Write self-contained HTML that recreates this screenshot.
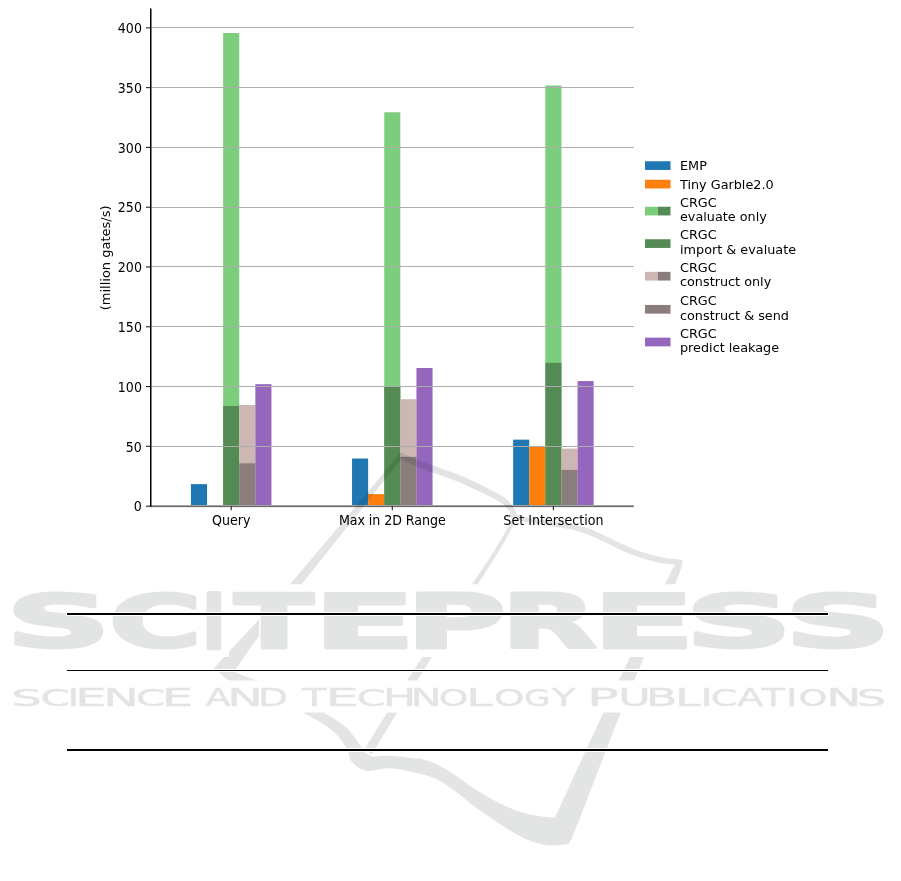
<!DOCTYPE html>
<html><head><meta charset="utf-8"><title>Chart</title>
<style>
html,body{margin:0;padding:0;background:#fff;}
body{width:901px;height:881px;overflow:hidden;}
svg{display:block;will-change:transform;}
.t{font-family:"DejaVu Sans","Liberation Sans",sans-serif;font-size:13px;fill:#000;}
.lg{font-family:"DejaVu Sans","Liberation Sans",sans-serif;font-size:12.8px;fill:#000;}
</style></head>
<body>
<svg width="901" height="881" viewBox="0 0 901 881">
<rect x="0" y="0" width="901" height="881" fill="#fff"/>
<g id="bars">
<rect x="190.95" y="484.12" width="16.10" height="21.88" fill="#1f77b4"/>
<rect x="223.15" y="33.01" width="16.10" height="472.99" fill="#7ccd7c"/>
<rect x="223.15" y="406.05" width="16.10" height="99.95" fill="#548b54"/>
<rect x="239.25" y="404.97" width="16.10" height="101.03" fill="#cdb7b5"/>
<rect x="239.25" y="463.32" width="16.10" height="42.68" fill="#8b7d7b"/>
<rect x="255.35" y="384.17" width="16.10" height="121.83" fill="#9467bd"/>
<rect x="352.05" y="458.53" width="16.10" height="47.47" fill="#1f77b4"/>
<rect x="368.15" y="494.10" width="16.10" height="11.90" fill="#ff7f0e"/>
<rect x="384.25" y="112.28" width="16.10" height="393.72" fill="#7ccd7c"/>
<rect x="384.25" y="386.68" width="16.10" height="119.32" fill="#548b54"/>
<rect x="400.35" y="399.23" width="16.10" height="106.77" fill="#cdb7b5"/>
<rect x="400.35" y="456.86" width="16.10" height="49.14" fill="#8b7d7b"/>
<rect x="416.45" y="368.02" width="16.10" height="137.98" fill="#9467bd"/>
<rect x="513.15" y="439.64" width="16.10" height="66.36" fill="#1f77b4"/>
<rect x="529.25" y="446.94" width="16.10" height="59.06" fill="#ff7f0e"/>
<rect x="545.35" y="85.50" width="16.10" height="420.50" fill="#7ccd7c"/>
<rect x="545.35" y="362.88" width="16.10" height="143.12" fill="#548b54"/>
<rect x="561.45" y="448.61" width="16.10" height="57.39" fill="#cdb7b5"/>
<rect x="561.45" y="469.89" width="16.10" height="36.11" fill="#8b7d7b"/>
<rect x="577.55" y="381.06" width="16.10" height="124.94" fill="#9467bd"/>
</g>
<g id="grid">
<line x1="150.7" x2="633.8" y1="446.50" y2="446.50" stroke="#adadad" stroke-width="1.15"/>
<line x1="150.7" x2="633.8" y1="386.50" y2="386.50" stroke="#adadad" stroke-width="1.15"/>
<line x1="150.7" x2="633.8" y1="326.50" y2="326.50" stroke="#adadad" stroke-width="1.15"/>
<line x1="150.7" x2="633.8" y1="266.50" y2="266.50" stroke="#adadad" stroke-width="1.15"/>
<line x1="150.7" x2="633.8" y1="207.50" y2="207.50" stroke="#adadad" stroke-width="1.15"/>
<line x1="150.7" x2="633.8" y1="147.50" y2="147.50" stroke="#adadad" stroke-width="1.15"/>
<line x1="150.7" x2="633.8" y1="87.50" y2="87.50" stroke="#adadad" stroke-width="1.15"/>
<line x1="150.7" x2="633.8" y1="27.50" y2="27.50" stroke="#adadad" stroke-width="1.15"/>
</g>
<rect x="146" y="505" width="487.8" height="1" fill="#a2a2a2"/>
<rect x="146" y="506" width="487.8" height="1" fill="#6a6a6a"/>
<rect x="146" y="507" width="487.8" height="0.3" fill="#c0c0c0"/>
<line x1="150.75" x2="150.75" y1="8.5" y2="506.8" stroke="#000" stroke-width="1.5"/>
<g id="ticks">
<line x1="146" x2="150.7" y1="446.32" y2="446.32" stroke="#222" stroke-width="1.1"/>
<line x1="146" x2="150.7" y1="386.54" y2="386.54" stroke="#222" stroke-width="1.1"/>
<line x1="146" x2="150.7" y1="326.76" y2="326.76" stroke="#222" stroke-width="1.1"/>
<line x1="146" x2="150.7" y1="266.98" y2="266.98" stroke="#222" stroke-width="1.1"/>
<line x1="146" x2="150.7" y1="207.19" y2="207.19" stroke="#222" stroke-width="1.1"/>
<line x1="146" x2="150.7" y1="147.41" y2="147.41" stroke="#222" stroke-width="1.1"/>
<line x1="146" x2="150.7" y1="87.63" y2="87.63" stroke="#222" stroke-width="1.1"/>
<line x1="146" x2="150.7" y1="27.85" y2="27.85" stroke="#222" stroke-width="1.1"/>
<line x1="231.20" x2="231.20" y1="506" y2="510.2" stroke="#222" stroke-width="1.1"/>
<line x1="392.30" x2="392.30" y1="506" y2="510.2" stroke="#222" stroke-width="1.1"/>
<line x1="553.40" x2="553.40" y1="506" y2="510.2" stroke="#222" stroke-width="1.1"/>
</g>
<g class="t">
<text transform="translate(141.9,511.30) scale(0.97,1.07)" text-anchor="end">0</text>
<text transform="translate(141.9,451.52) scale(0.97,1.07)" text-anchor="end">50</text>
<text transform="translate(141.9,391.74) scale(0.97,1.07)" text-anchor="end">100</text>
<text transform="translate(141.9,331.96) scale(0.97,1.07)" text-anchor="end">150</text>
<text transform="translate(141.9,272.18) scale(0.97,1.07)" text-anchor="end">200</text>
<text transform="translate(141.9,212.39) scale(0.97,1.07)" text-anchor="end">250</text>
<text transform="translate(141.9,152.61) scale(0.97,1.07)" text-anchor="end">300</text>
<text transform="translate(141.9,92.83) scale(0.97,1.07)" text-anchor="end">350</text>
<text transform="translate(141.9,33.05) scale(0.97,1.07)" text-anchor="end">400</text>
<text transform="translate(231.20,525.35) scale(0.975,1.06)" text-anchor="middle">Query</text>
<text transform="translate(392.30,525.35) scale(0.975,1.06)" text-anchor="middle" textLength="109.5" lengthAdjust="spacing">Max in 2D Range</text>
<text transform="translate(553.40,525.35) scale(0.975,1.06)" text-anchor="middle">Set Intersection</text>
<text transform="translate(110.3,257.9) rotate(-90)" text-anchor="middle">(million gates/s)</text>
</g>
<g class="lg">
<rect x="645.00" y="161.25" width="25.50" height="8.70" fill="#1f77b4"/>
<text transform="translate(680,170.10)">EMP</text>
<rect x="645.00" y="179.75" width="25.50" height="8.70" fill="#ff7f0e"/>
<text transform="translate(680,188.60)">Tiny Garble2.0</text>
<rect x="645.00" y="206.75" width="12.75" height="8.70" fill="#7ccd7c"/>
<rect x="657.75" y="206.75" width="12.75" height="8.70" fill="#548b54"/>
<text transform="translate(680,206.90)">CRGC</text>
<text transform="translate(680,221.30)">evaluate only</text>
<rect x="645.00" y="239.25" width="25.50" height="8.70" fill="#548b54"/>
<text transform="translate(680,239.40)">CRGC</text>
<text transform="translate(680,253.80)">import &amp; evaluate</text>
<rect x="645.00" y="271.85" width="12.75" height="8.70" fill="#cdb7b5"/>
<rect x="657.75" y="271.85" width="12.75" height="8.70" fill="#8b7d7b"/>
<text transform="translate(680,272.00)">CRGC</text>
<text transform="translate(680,286.40)">construct only</text>
<rect x="645.00" y="304.95" width="25.50" height="8.70" fill="#8b7d7b"/>
<text transform="translate(680,305.10)">CRGC</text>
<text transform="translate(680,319.50)">construct &amp; send</text>
<rect x="645.00" y="337.65" width="25.50" height="8.70" fill="#9467bd"/>
<text transform="translate(680,337.80)">CRGC</text>
<text transform="translate(680,352.20)">predict leakage</text>
</g>
<defs>
<clipPath id="wmclip">
<rect x="0" y="0" width="901" height="584.2"/>
<rect x="0" y="657" width="901" height="23.5"/>
<rect x="0" y="712.5" width="901" height="170"/>
<rect x="229" y="618.8" width="30" height="38.5"/>
<rect x="437" y="636" width="9" height="10"/>
</clipPath>
</defs>
<g id="wm">
<g opacity="0.11" fill="#001212" clip-path="url(#wmclip)">
<path d="M399.5,453.5 L394.9,459.0 L388.8,466.5 L381.4,475.4 L373.2,485.4 L364.3,496.1 L355.2,507.0 L345.1,519.0 L333.7,532.6 L321.7,546.8 L309.9,560.7 L299.1,573.5 L290.0,584.2 L283.0,592.3 L277.7,598.4 L273.3,603.4 L269.2,608.0 L264.8,612.8 L259.4,618.8 L252.5,626.4 L244.4,635.1 L236.0,644.1 L228.1,652.6 L221.2,660.0 L216.3,665.4 L213.6,668.5 L212.6,669.8 L212.7,669.9 L213.4,669.3 L214.2,668.7 L214.5,668.5 L214.9,668.8 L215.4,669.3 L216.1,669.8 L216.9,670.5 L217.8,671.3 L219.0,672.2 L220.2,673.3 L221.3,674.4 L222.6,675.8 L224.3,677.2 L226.7,678.9 L230.0,680.8 L234.4,683.0 L239.8,685.5 L245.8,688.2 L252.3,691.0 L258.7,693.8 L265.0,696.5 L271.2,699.1 L277.6,701.8 L284.1,704.4 L290.5,707.0 L296.7,709.7 L302.5,712.5 L308.0,715.3 L313.3,718.2 L318.5,721.1 L323.3,724.1 L327.7,727.0 L331.6,730.0 L335.0,733.1 L338.0,736.2 L340.6,739.4 L342.9,742.5 L344.8,745.5 L346.6,748.3 L347.9,750.9 L348.6,753.3 L349.1,755.5 L349.6,757.7 L350.3,759.7 L351.6,761.6 L353.4,763.5 L355.5,765.4 L358.0,767.2 L360.6,768.8 L363.5,770.0 L366.6,770.8 L369.9,771.0 L373.5,770.5 L377.4,769.8 L381.4,769.0 L385.6,768.4 L390.0,768.3 L394.8,768.7 L400.0,769.5 L405.4,770.5 L410.7,771.5 L415.6,772.7 L420.0,773.7 L423.7,774.6 L426.8,775.5 L429.7,776.5 L432.3,777.5 L435.0,778.6 L437.8,780.0 L440.8,781.6 L443.7,783.3 L446.6,785.3 L449.6,787.3 L452.5,789.4 L455.5,791.5 L458.5,793.7 L461.4,796.1 L464.4,798.5 L467.4,801.0 L470.3,803.4 L473.3,805.7 L476.3,807.9 L479.2,810.0 L482.1,812.1 L485.1,814.1 L488.0,816.1 L491.0,818.1 L494.0,820.1 L496.9,822.1 L499.9,824.1 L502.9,826.0 L505.8,827.9 L508.8,829.7 L511.8,831.5 L514.7,833.2 L517.7,834.9 L520.7,836.6 L523.6,838.1 L526.6,839.4 L529.6,840.6 L532.6,841.7 L535.7,842.7 L538.7,843.5 L541.6,844.2 L544.3,844.8 L546.9,845.2 L549.4,845.3 L551.8,845.4 L554.2,845.3 L556.4,845.2 L558.5,845.1 L560.6,845.0 L562.7,844.8 L564.7,844.5 L566.6,844.3 L568.1,844.0 L569.2,843.9 L570.0,842.0 L570.9,840.1 L572.1,837.5 L573.8,833.5 L576.3,827.2 L580.0,818.0 L584.9,805.3 L590.9,789.7 L597.7,771.8 L605.1,752.5 L612.9,732.6 L620.8,712.7 L629.7,691.3 L639.7,667.4 L650.2,642.8 L660.2,619.4 L668.9,599.0 L675.4,583.3 L679.4,573.1 L681.5,567.0 L682.4,563.8 L682.4,562.5 L682.3,561.7 L682.5,560.5 L675.4,564.8 L674.9,565.5 L674.7,565.5 L674.3,566.0 L672.9,568.2 L670.2,573.6 L665.4,583.3 L657.6,599.4 L647.2,621.1 L635.3,646.0 L623.2,671.3 L612.2,694.4 L603.5,712.7 L597.4,725.6 L592.9,735.2 L589.4,742.5 L586.5,748.8 L583.6,755.3 L580.0,763.0 L575.6,772.5 L570.9,782.9 L566.0,793.4 L561.5,803.3 L557.7,811.6 L555.0,817.6 L553.9,817.5 L552.5,817.4 L550.8,817.3 L548.8,817.2 L546.6,817.0 L544.3,816.7 L541.8,816.4 L538.9,816.0 L535.9,815.5 L532.8,815.0 L529.6,814.4 L526.6,813.7 L523.6,812.9 L520.7,812.0 L517.7,811.0 L514.7,809.9 L511.8,808.7 L508.8,807.5 L505.8,806.2 L502.9,804.8 L499.9,803.3 L496.9,801.8 L494.0,800.2 L491.0,798.6 L488.0,797.0 L485.1,795.3 L482.2,793.5 L479.2,791.7 L476.3,789.9 L473.3,788.0 L470.3,786.0 L467.4,783.9 L464.4,781.8 L461.4,779.6 L458.5,777.5 L455.5,775.5 L452.5,773.6 L449.6,771.7 L446.7,769.8 L443.7,768.0 L440.8,766.4 L437.8,764.9 L434.7,763.5 L431.4,762.3 L428.1,761.1 L425.0,760.1 L422.2,759.3 L420.0,758.6 L418.6,758.2 L418.1,758.1 L417.9,758.2 L417.6,758.3 L416.7,758.4 L414.9,758.3 L411.8,758.0 L407.8,757.5 L403.3,757.0 L398.5,756.5 L394.0,756.1 L390.0,755.8 L386.4,755.7 L382.8,755.8 L379.4,756.0 L376.4,756.2 L373.9,756.4 L372.0,756.5 L365.0,753.0 L364.3,751.9 L363.4,750.3 L362.3,748.5 L361.0,746.4 L359.6,744.2 L358.0,742.0 L356.3,739.7 L354.4,737.1 L352.4,734.5 L350.2,731.8 L347.7,729.1 L345.0,726.6 L342.0,724.2 L338.8,721.9 L335.3,719.6 L331.6,717.3 L327.6,714.9 L323.3,712.5 L318.6,709.9 L313.6,707.3 L308.3,704.5 L302.8,701.8 L297.4,699.1 L292.0,696.5 L286.6,693.9 L281.1,691.3 L275.5,688.7 L270.1,686.2 L264.9,683.9 L260.0,681.8 L255.3,679.9 L250.6,678.2 L246.2,676.6 L242.2,675.1 L238.8,673.8 L236.3,672.7 L234.9,671.7 L234.5,670.9 L234.7,670.3 L235.2,669.8 L235.8,669.3 L236.0,669.0 L238.3,665.7 L241.2,661.2 L244.8,655.9 L249.0,649.8 L253.8,643.3 L259.0,636.3 L264.7,629.0 L271.0,621.3 L277.9,613.0 L285.3,604.1 L293.2,594.6 L301.6,584.2 L311.0,572.5 L321.5,559.4 L332.5,545.6 L343.5,531.8 L353.9,518.7 L363.2,507.0 L371.7,496.3 L380.0,485.9 L387.7,476.2 L394.5,467.5 L400.2,460.4 L404.5,455.0 Z"/>
<path d="M512.3,519.1 L511.1,521.3 L509.6,524.1 L507.7,527.5 L505.7,531.3 L503.4,535.3 L501.1,539.5 L498.7,543.6 L496.2,547.6 L493.9,551.3 L491.8,554.7 L489.6,558.1 L487.2,561.7 L484.6,565.5 L481.6,570.0 L478.1,575.2 L473.9,581.3 L468.9,588.7 L463.0,597.3 L456.5,606.7 L449.7,616.7 L442.8,626.8 L436.0,636.7 L429.6,646.2 L423.8,654.8 L418.6,662.8 L413.7,670.5 L408.9,677.8 L404.5,685.0 L400.2,691.8 L396.1,698.4 L392.1,704.7 L388.3,710.7 L384.6,716.7 L381.0,722.6 L377.4,728.3 L374.1,733.7 L371.0,738.7 L368.3,743.1 L366.0,746.8 L364.2,749.7 L371.8,754.3 L373.5,751.4 L375.8,747.7 L378.5,743.3 L381.5,738.3 L384.8,732.9 L388.3,727.1 L392.0,721.2 L395.7,715.3 L399.4,709.2 L403.3,702.9 L407.4,696.3 L411.6,689.5 L416.1,682.3 L420.7,674.9 L425.5,667.2 L430.6,659.2 L436.1,650.4 L442.2,640.8 L448.6,630.6 L455.1,620.3 L461.6,610.1 L467.7,600.4 L473.3,591.6 L478.1,584.1 L482.1,577.8 L485.5,572.5 L488.3,568.0 L490.9,564.0 L493.2,560.5 L495.3,557.0 L497.5,553.5 L499.8,549.8 L502.1,545.7 L504.5,541.5 L506.9,537.2 L509.1,533.2 L511.1,529.3 L513.0,525.9 L514.5,523.1 L515.7,520.9 Z"/>
<path d="M398.3,457.3 L399.5,457.9 L401.2,458.8 L403.2,459.9 L405.4,461.1 L407.8,462.4 L410.2,463.6 L412.5,464.8 L414.7,465.8 L416.7,466.7 L418.7,467.5 L420.6,468.2 L422.5,468.9 L424.4,469.6 L426.5,470.3 L428.7,471.1 L431.1,472.0 L433.7,472.9 L436.6,473.9 L439.6,475.0 L442.8,476.1 L446.0,477.2 L449.1,478.3 L452.3,479.5 L455.3,480.7 L458.4,482.0 L461.5,483.3 L464.5,484.6 L467.6,486.0 L470.7,487.4 L473.7,488.8 L476.7,490.2 L479.6,491.6 L482.4,492.9 L485.3,494.3 L488.2,495.7 L490.9,497.1 L493.6,498.5 L496.1,499.8 L498.3,501.1 L500.2,502.4 L501.9,503.5 L503.3,504.7 L504.6,505.7 L505.7,506.8 L506.6,507.9 L507.5,508.9 L508.4,510.0 L509.2,511.1 L509.9,512.0 L510.4,513.0 L510.9,514.0 L511.3,514.9 L511.7,515.9 L512.0,516.8 L512.2,517.7 L512.5,518.5 L512.6,519.0 L512.7,519.4 L512.7,519.8 L512.7,520.1 L512.6,520.5 L512.6,520.8 L512.5,521.3 L512.4,521.6 L516.6,522.4 L516.6,522.2 L516.7,522.0 L516.9,521.5 L517.0,521.0 L517.2,520.2 L517.3,519.4 L517.3,518.5 L517.1,517.5 L517.0,516.6 L516.8,515.6 L516.5,514.5 L516.2,513.3 L515.8,512.0 L515.3,510.6 L514.6,509.3 L513.8,507.9 L513.0,506.7 L512.1,505.4 L511.1,504.1 L510.0,502.8 L508.8,501.5 L507.3,500.1 L505.6,498.7 L503.8,497.2 L501.6,495.8 L499.2,494.4 L496.6,492.9 L493.9,491.4 L491.1,490.0 L488.2,488.5 L485.3,487.1 L482.4,485.6 L479.5,484.2 L476.6,482.8 L473.5,481.3 L470.4,479.9 L467.3,478.5 L464.1,477.1 L461.0,475.8 L457.9,474.5 L454.7,473.2 L451.5,472.0 L448.2,470.9 L445.0,469.7 L441.8,468.6 L438.8,467.6 L436.0,466.6 L433.3,465.6 L430.9,464.8 L428.7,464.0 L426.6,463.3 L424.7,462.6 L422.9,462.0 L421.1,461.3 L419.2,460.6 L417.3,459.8 L415.2,458.9 L412.9,457.9 L410.5,456.8 L408.1,455.7 L405.8,454.7 L403.8,453.7 L402.0,452.9 L400.7,452.3 Z"/>
<path d="M509.4,517.1 L510.6,517.5 L512.2,518.0 L514.0,518.5 L516.2,519.2 L518.5,519.9 L521.0,520.6 L523.5,521.2 L526.1,521.9 L528.8,522.4 L531.7,522.9 L534.7,523.5 L537.8,524.0 L541.0,524.5 L544.1,525.0 L547.2,525.5 L550.1,526.0 L553.0,526.4 L555.9,526.9 L558.8,527.3 L561.6,527.7 L564.4,528.2 L567.1,528.6 L569.7,529.1 L572.1,529.6 L574.4,530.2 L576.6,530.8 L578.7,531.4 L580.8,532.0 L582.8,532.7 L584.8,533.4 L586.8,534.2 L589.0,535.0 L591.1,535.9 L593.3,536.8 L595.5,537.8 L597.7,538.8 L599.9,539.9 L602.2,541.0 L604.5,542.1 L606.7,543.2 L609.0,544.3 L611.3,545.4 L613.6,546.5 L616.0,547.7 L618.3,548.8 L620.7,549.9 L623.1,551.0 L625.4,552.1 L627.8,553.0 L630.1,554.0 L632.5,554.9 L634.8,555.7 L637.1,556.6 L639.5,557.4 L641.8,558.1 L644.1,558.9 L646.4,559.6 L648.8,560.2 L651.1,560.8 L653.4,561.4 L655.7,562.0 L658.1,562.5 L660.4,563.0 L662.8,563.4 L665.4,563.7 L668.1,564.0 L670.8,564.2 L673.6,564.4 L676.1,564.6 L678.4,564.7 L680.4,564.8 L681.8,564.9 L682.2,559.7 L680.8,559.6 L678.8,559.4 L676.5,559.2 L674.0,558.9 L671.4,558.7 L668.7,558.4 L666.1,558.0 L663.8,557.6 L661.5,557.2 L659.3,556.7 L657.1,556.2 L654.9,555.7 L652.6,555.1 L650.4,554.5 L648.1,553.8 L645.9,553.1 L643.6,552.4 L641.4,551.7 L639.1,550.9 L636.9,550.1 L634.6,549.3 L632.3,548.4 L630.0,547.5 L627.8,546.5 L625.5,545.6 L623.2,544.5 L620.9,543.4 L618.6,542.3 L616.2,541.2 L613.9,540.0 L611.6,538.9 L609.3,537.8 L607.0,536.8 L604.7,535.7 L602.4,534.6 L600.2,533.5 L597.9,532.5 L595.6,531.5 L593.3,530.5 L591.0,529.6 L588.8,528.8 L586.7,528.0 L584.6,527.3 L582.4,526.7 L580.3,526.1 L578.1,525.5 L575.7,524.9 L573.3,524.4 L570.7,523.9 L568.0,523.4 L565.2,523.0 L562.4,522.6 L559.5,522.2 L556.6,521.8 L553.8,521.4 L550.9,521.0 L547.9,520.6 L544.8,520.1 L541.7,519.7 L538.6,519.3 L535.5,518.8 L532.5,518.3 L529.7,517.8 L527.1,517.3 L524.6,516.8 L522.1,516.2 L519.7,515.6 L517.4,514.9 L515.3,514.3 L513.5,513.7 L511.9,513.2 L510.6,512.9 Z"/>
</g>
<g font-family="DejaVu Sans" font-weight="bold" font-size="100" style="font-kerning:none" fill="#e3e5e5" stroke="#e3e5e5" stroke-width="4.0" stroke-linejoin="round">
<text transform="matrix(1.46261,0,0,0.72487,5.869,647.285)" stroke-width="3.885">S</text>
<text transform="matrix(1.26452,0,0,0.72487,108.977,647.285)" stroke-width="4.178">C</text>
<text transform="matrix(0.58511,0,0,0.75171,203.117,648.300)" stroke-width="6.031">I</text>
<text transform="matrix(1.15774,0,0,0.75171,234.621,648.300)" stroke-width="4.288">T</text>
<text transform="matrix(1.49614,0,0,0.75171,313.236,648.300)" stroke-width="3.772">E</text>
<text transform="matrix(1.35667,0,0,0.75171,406.219,648.300)" stroke-width="3.961">P</text>
<text transform="matrix(1.23860,0,0,0.75171,501.605,648.300)" stroke-width="4.145">R</text>
<text transform="matrix(1.50772,0,0,0.75171,592.029,648.300)" stroke-width="3.757">E</text>
<text transform="matrix(1.49391,0,0,0.72487,685.044,647.285)" stroke-width="3.844">S</text>
<text transform="matrix(1.48348,0,0,0.72487,784.619,647.285)" stroke-width="3.857">S</text>
</g>
<g font-family="DejaVu Sans" font-size="100" style="font-kerning:none" fill="#e3e5e5" stroke="#e3e5e5" stroke-width="0.5" stroke-linejoin="round">
<text transform="matrix(0.48343,0,0,0.23545,11.259,705.720)" stroke-width="1.482">S</text>
<text transform="matrix(0.42177,0,0,0.23545,40.588,705.720)" stroke-width="1.587">C</text>
<text transform="matrix(0.41414,0,0,0.24417,67.191,706.050)" stroke-width="1.572">I</text>
<text transform="matrix(0.50638,0,0,0.24417,74.987,706.050)" stroke-width="1.422">E</text>
<text transform="matrix(0.47464,0,0,0.24417,103.199,706.050)" stroke-width="1.469">N</text>
<text transform="matrix(0.42517,0,0,0.23545,135.869,705.720)" stroke-width="1.580">C</text>
<text transform="matrix(0.49787,0,0,0.24417,161.871,706.050)" stroke-width="1.434">E</text>
<text transform="matrix(0.36677,0,0,0.24417,205.457,706.050)" stroke-width="1.671">A</text>
<text transform="matrix(0.47464,0,0,0.24417,227.199,706.050)" stroke-width="1.469">N</text>
<text transform="matrix(0.38989,0,0,0.24417,258.029,706.050)" stroke-width="1.621">D</text>
<text transform="matrix(0.40194,0,0,0.24417,302.071,706.050)" stroke-width="1.596">T</text>
<text transform="matrix(0.52766,0,0,0.24417,325.379,706.050)" stroke-width="1.393">E</text>
<text transform="matrix(0.41156,0,0,0.23545,356.845,705.720)" stroke-width="1.606">C</text>
<text transform="matrix(0.44604,0,0,0.24417,382.779,706.050)" stroke-width="1.515">H</text>
<text transform="matrix(0.40942,0,0,0.24417,410.638,706.050)" stroke-width="1.581">N</text>
<text transform="matrix(0.37630,0,0,0.23545,438.843,705.720)" stroke-width="1.680">O</text>
<text transform="matrix(0.47357,0,0,0.24417,466.209,706.050)" stroke-width="1.470">L</text>
<text transform="matrix(0.38815,0,0,0.23545,493.976,705.720)" stroke-width="1.654">O</text>
<text transform="matrix(0.33752,0,0,0.23545,524.260,705.720)" stroke-width="1.774">G</text>
<text transform="matrix(0.39414,0,0,0.24417,551.629,706.050)" stroke-width="1.612">Y</text>
<text transform="matrix(0.52654,0,0,0.24417,587.090,706.050)" stroke-width="1.394">P</text>
<text transform="matrix(0.44444,0,0,0.23957,618.283,705.715)" stroke-width="1.532">U</text>
<text transform="matrix(0.46228,0,0,0.24417,645.720,706.050)" stroke-width="1.488">B</text>
<text transform="matrix(0.45374,0,0,0.24417,675.203,706.050)" stroke-width="1.502">L</text>
<text transform="matrix(0.39394,0,0,0.24417,700.789,706.050)" stroke-width="1.612">I</text>
<text transform="matrix(0.37755,0,0,0.23545,710.836,705.720)" stroke-width="1.677">C</text>
<text transform="matrix(0.38623,0,0,0.24417,736.941,706.050)" stroke-width="1.628">A</text>
<text transform="matrix(0.38412,0,0,0.24417,761.565,706.050)" stroke-width="1.633">T</text>
<text transform="matrix(0.37374,0,0,0.24417,786.187,706.050)" stroke-width="1.655">I</text>
<text transform="matrix(0.36741,0,0,0.23545,798.393,705.720)" stroke-width="1.700">O</text>
<text transform="matrix(0.46920,0,0,0.24417,826.352,706.050)" stroke-width="1.477">N</text>
<text transform="matrix(0.46394,0,0,0.23545,856.388,705.720)" stroke-width="1.513">S</text>
</g>
</g>
<g id="rules">
<rect x="66" y="612" width="763" height="4" fill="#fff"/>
<rect x="67" y="613" width="761" height="2" fill="#000"/>
<rect x="66" y="669" width="763" height="3" fill="#fff"/>
<rect x="67" y="670" width="761" height="1" fill="#000"/>
<rect x="66" y="748" width="763" height="4" fill="#fff"/>
<rect x="67" y="749" width="761" height="2" fill="#000"/>
</g>
</svg>
</body></html>
